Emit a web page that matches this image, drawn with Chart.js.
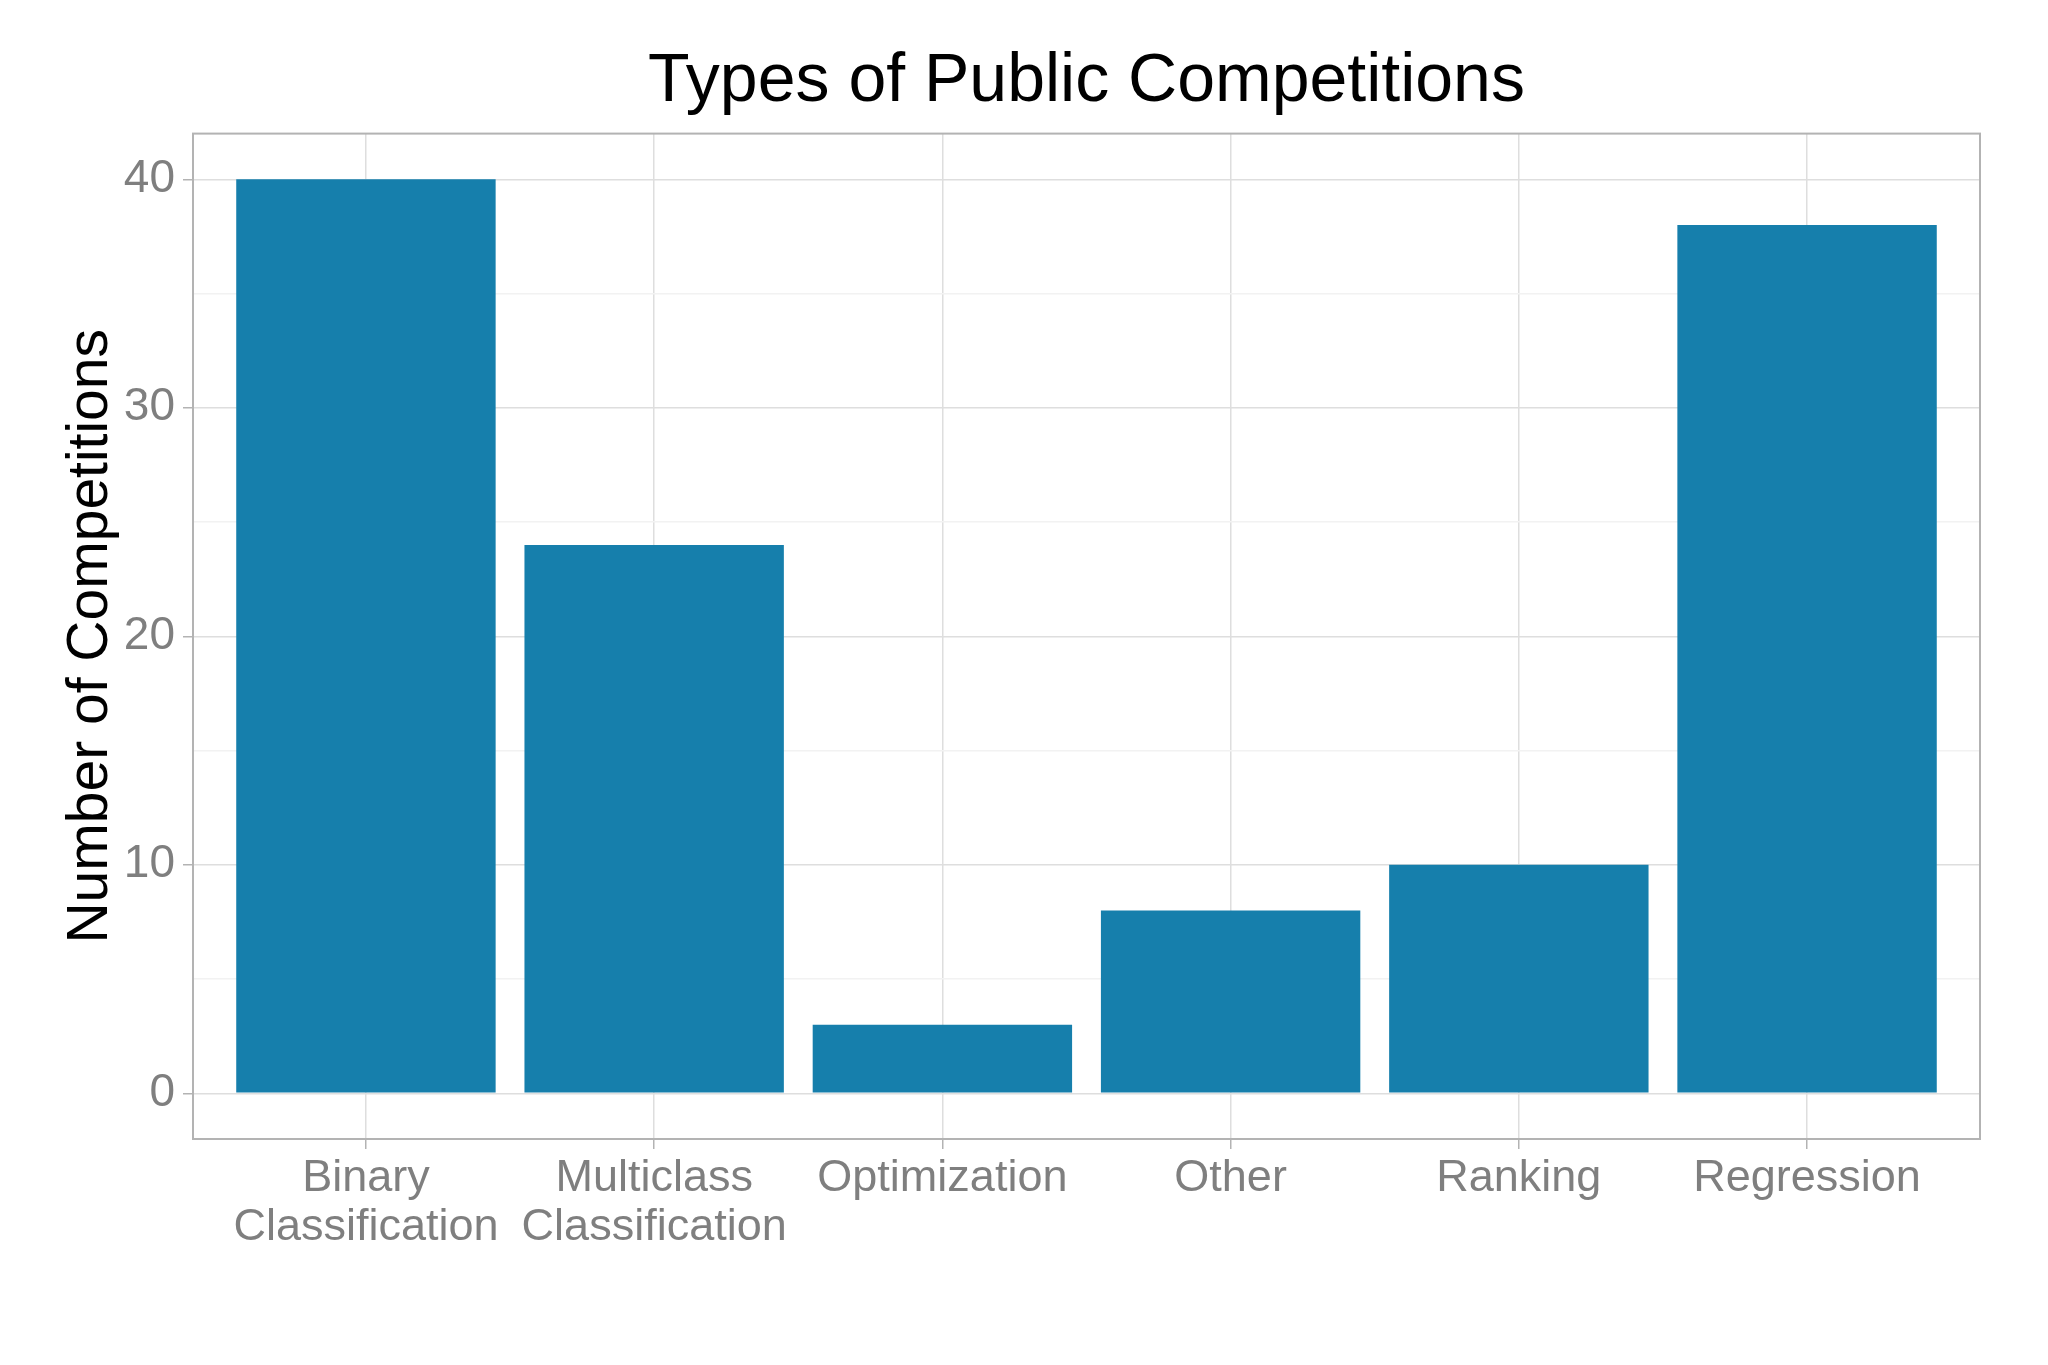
<!DOCTYPE html>
<html>
<head>
<meta charset="utf-8">
<script src="https://cdn.jsdelivr.net/npm/chart.js@4"></script>
<style>
  html, body { margin: 0; padding: 0; background: #ffffff; }
  #wrap { width: 2048px; height: 1365px; }
</style>
</head>
<body>
<div id="wrap"><canvas id="typesChart" width="2048" height="1365"></canvas></div>
<script>
// Data
const categories = [
    ['Binary', 'Classification'],
    ['Multiclass', 'Classification'],
    'Optimization',
    'Other',
    'Ranking',
    'Regression'
];
const counts = [40, 24, 3, 8, 10, 38];
const yMajorTicks = [0, 10, 20, 30, 40];
const yMinorTicks = [5, 15, 25, 35];

const FONT = "'Liberation Sans', Arial, sans-serif";
const gridMajor = '#dedede';
const gridMinor = '#f2f2f2';
const borderGray = '#b3b3b3';

// draws the panel box like ggplot's theme_light
const panelBorder = {
    id: 'panelBorder',
    afterDraw(chart) {
        const { ctx, chartArea } = chart;
        ctx.save();
        ctx.strokeStyle = borderGray;
        ctx.lineWidth = 2;
        ctx.strokeRect(chartArea.left, chartArea.top, chartArea.right - chartArea.left, chartArea.bottom - chartArea.top);
        ctx.restore();
    }
};

const ctx = document.getElementById('typesChart').getContext('2d');
new Chart(ctx, {
    type: 'bar',
    data: {
        datasets: [{
            data: counts.map((v, i) => ({ x: i + 1, y: v })),
            backgroundColor: '#167fac',
            borderWidth: 0,
            barPercentage: 0.9,
            categoryPercentage: 1
        }]
    },
    options: {
        responsive: false,
        animation: false,
        layout: { padding: { left: 0, right: 68, top: 0, bottom: 0 } },
        plugins: {
            legend: { display: false },
            tooltip: { enabled: false },
            title: {
                display: true,
                fullSize: false,
                text: 'Types of Public Competitions',
                color: '#000000',
                font: { family: FONT, size: 68, weight: 'normal' },
                padding: { top: 41, bottom: 11 }
            }
        },
        scales: {
            x: {
                type: 'linear',
                min: 0.4,
                max: 6.6,
                offset: false,
                afterBuildTicks: axis => { axis.ticks = categories.map((c, i) => ({ value: i + 1 })); },
                afterFit: scale => { scale.height = 226; },
                ticks: {
                    callback: value => categories[value - 1],
                    color: '#7f7f7f',
                    font: { family: FONT, size: 45, lineHeight: 1.09 },
                    padding: 5,
                    maxRotation: 0,
                    autoSkip: false
                },
                grid: {
                    offset: false,
                    color: gridMajor,
                    lineWidth: 1.5,
                    tickColor: borderGray,
                    tickLength: 10
                },
                border: { display: false }
            },
            y: {
                min: -2,
                max: 42,
                afterBuildTicks: axis => {
                    axis.ticks = yMajorTicks.concat(yMinorTicks).sort((a, b) => a - b).map(v => ({ value: v }));
                },
                afterFit: scale => { scale.width = 193; },
                ticks: {
                    callback: value => yMajorTicks.includes(value) ? String(value) : '',
                    color: '#7f7f7f',
                    font: { family: FONT, size: 46 },
                    padding: 8
                },
                grid: {
                    color: c => yMajorTicks.includes(c.tick.value) ? gridMajor : gridMinor,
                    lineWidth: 1.5,
                    tickColor: c => yMajorTicks.includes(c.tick.value) ? borderGray : 'rgba(0,0,0,0)',
                    tickLength: 10
                },
                border: { display: false },
                title: {
                    display: true,
                    text: 'Number of Competitions',
                    color: '#000000',
                    font: { family: FONT, size: 57 },
                    padding: { top: 57, bottom: 0 }
                }
            }
        }
    },
    plugins: [panelBorder]
});
</script>
</body>
</html>
